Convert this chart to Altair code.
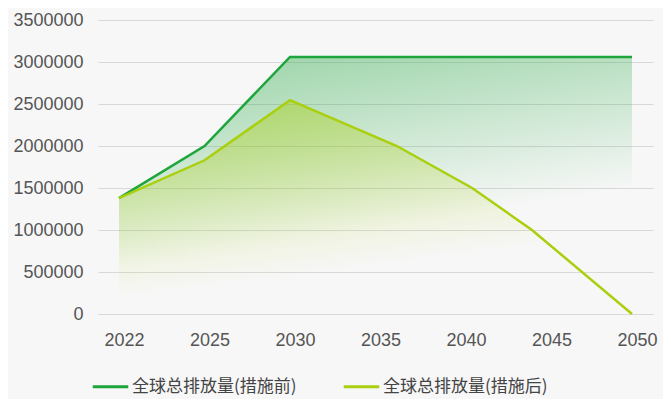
import altair as alt
import pandas as pd

year_labels = ["2022", "2025", "2030", "2035", "2040", "2045", "2050"]
series_names = ["全球总排放量(措施前)", "全球总排放量(措施后)"]

before_x = [0, 1, 2, 3, 4, 5, 6]
before_vals = [1380000, 2000000, 3060000, 3060000, 3060000, 3060000, 3060000]

after_x = [0, 1, 2, 3.25, 4.13, 4.83, 6]
after_vals = [1380000, 1830000, 2545000, 2000000, 1500000, 1000000, 0]

dark = "#1ea53c"
light = "#a9cf0e"

rows = []
for x, v in zip(before_x, before_vals):
    rows.append({"x": x, "v": v, "s": series_names[0]})
for x, v in zip(after_x, after_vals):
    rows.append({"x": x, "v": v, "s": series_names[1]})
df = pd.DataFrame(rows)

label_expr = "[" + ",".join("'%s'" % y for y in year_labels) + "][round(datum.value)]"

x_enc = alt.X(
    "x:Q",
    scale=alt.Scale(domain=[0, 6], nice=False, zero=False, padding=21),
    axis=alt.Axis(
        values=list(range(len(year_labels))),
        labelExpr=label_expr,
        grid=False, domain=False, ticks=False,
        labelPadding=17, labelFontSize=18, labelColor="#555555",
        labelFont="Liberation Sans", labelOffset=5, title=None,
    ),
)
y_enc = alt.Y(
    "v:Q",
    scale=alt.Scale(domain=[0, 3500000], nice=False),
    axis=alt.Axis(
        values=list(range(0, 3500001, 500000)),
        format="d",
        grid=True, gridColor="#d9d9d9", gridWidth=1,
        domain=False, ticks=False,
        labelPadding=15, labelFontSize=18, labelColor="#555555",
        labelFont="Liberation Sans", title=None,
    ),
)

def grad(r, g, b, a0, stop_end, x2=0.3):
    return alt.Gradient(
        gradient="linear", x1=0, y1=0, x2=x2, y2=1,
        stops=[
            alt.GradientStop(offset=0, color="rgba(%d,%d,%d,%.2f)" % (r, g, b, a0)),
            alt.GradientStop(offset=stop_end, color="rgba(%d,%d,%d,0)" % (r, g, b)),
            alt.GradientStop(offset=1, color="rgba(%d,%d,%d,0)" % (r, g, b)),
        ],
    )

base = alt.Chart(df)

area_dark = base.transform_filter(alt.datum.s == series_names[0]).mark_area(
    color=grad(30, 165, 60, 0.45, 0.75)
).encode(x=x_enc, y=y_enc)

area_light = base.transform_filter(alt.datum.s == series_names[1]).mark_area(
    color=grad(169, 207, 14, 0.5, 0.85)
).encode(x=x_enc, y=y_enc)

lines = base.mark_line(strokeWidth=2.5).encode(
    x=x_enc, y=y_enc,
    color=alt.Color(
        "s:N",
        scale=alt.Scale(domain=series_names, range=[dark, light]),
        legend=alt.Legend(
            title=None, orient="none", legendX=-7, legendY=347,
            direction="horizontal", symbolType="stroke",
            symbolSize=1260, symbolStrokeWidth=3,
            labelFontSize=17, labelFont="Noto Sans CJK SC",
            labelColor="#444444", labelOffset=2, columnPadding=40,
            labelLimit=400,
        ),
    ),
    order=alt.Order("x:Q"),
)

chart = alt.layer(area_dark, area_light, lines).properties(
    width=555, height=294,
    background="#f7f7f7",
    padding={"left": 90, "top": 12, "right": 10, "bottom": 85},
    autosize=alt.AutoSizeParams(type="none"),
).configure_view(stroke=None)

chart.save("out.html", embed_options={"renderer": "svg", "actions": False})
